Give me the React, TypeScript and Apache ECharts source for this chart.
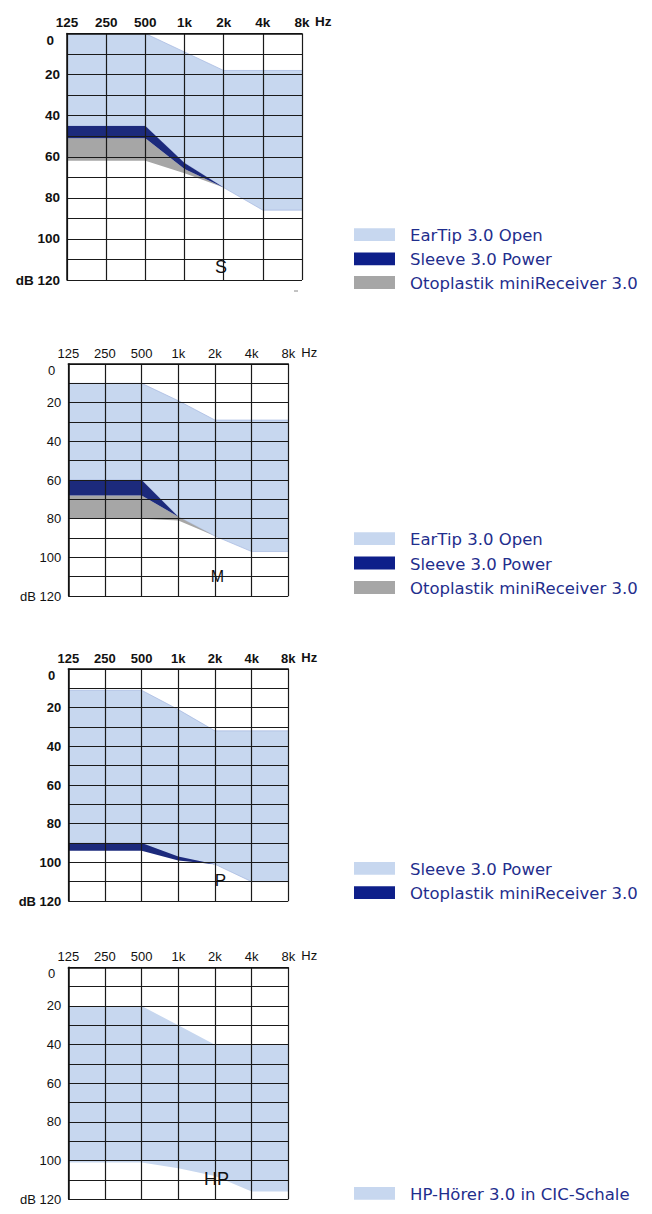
import React, { useEffect, useRef } from 'react';
import * as echarts from 'echarts';

// ---------- data ----------
const freqLabels = ['125', '250', '500', '1k', '2k', '4k', '8k'];
const freqUnit = 'Hz';
const dbUnit = 'dB';
const dbTicks = [0, 20, 40, 60, 80, 100, 120];

const nameEarTip = 'EarTip 3.0 Open';
const nameSleeve = 'Sleeve 3.0 Power';
const nameOto = 'Otoplastik miniReceiver 3.0';
const nameHP = 'HP-Hörer 3.0 in CIC-Schale';

const chartLetters = ['S', 'M', 'P', 'HP'];

// S
const sEarTipTop = [0, 0, 0, 9, 18, 18, 18];
const sEarTipBottom = [45, 45, 45, 63, 75, 86, 86];
const sSleeveTop = [45, 45, 45, 63, 75];
const sSleeveBottom = [51, 51, 51, 66, 75];
const sOtoTop = [51, 51, 51, 66, 75];
const sOtoBottom = [62, 62, 62, 68, 75];

// M
const mEarTipTop = [10, 10, 10, 19, 29, 29, 29];
const mEarTipBottom = [60, 60, 60, 79, 89, 97, 97];
const mSleeveTop = [60, 60, 60, 79];
const mSleeveBottom = [68, 68, 68, 79];
const mOtoTop = [68, 68, 68, 79, 89];
const mOtoBottom = [80, 80, 80, 81, 89];

// P
const pSleeveTop = [11, 11, 11, 21, 32, 32, 32];
const pSleeveBottom = [90, 90, 90, 98, 101, 110, 110];
const pOtoTop = [90, 90, 90, 97, 101];
const pOtoBottom = [94, 94, 94, 99, 101];

// HP
const hpTop = [20, 20, 20, 30, 40, 40, 40];
const hpBottom = [101, 101, 101, 104, 108, 116, 116];

// ---------- styles ----------
const LIGHT = '#c7d7ef';
const NAVY = '#1c2a7c';
const NAVY_SW = '#0e1f8a';
const GRAY = '#a6a6a6';
const EDGE = '#a3b6df';
const TEXT_BLUE = '#1f2e8d';
const AXIS_FONT = '"Liberation Sans", Arial, sans-serif';
const LEG_FONT = '"DejaVu Sans", sans-serif';

const grids = [
  { left: 67, top: 33.5, width: 235, height: 246.5 },
  { left: 68.3, top: 364, width: 220, height: 232 },
  { left: 68.3, top: 669, width: 220, height: 232 },
  { left: 68.3, top: 967.3, width: 220, height: 232 },
];
const labelStyles = [
  { fontSize: 13.5, fontWeight: 'bold' },
  { fontSize: 13, fontWeight: 'normal' },
  { fontSize: 13, fontWeight: 'bold' },
  { fontSize: 13, fontWeight: 'normal' },
];
const letterPos = [
  { x: 221, y: 267, size: 18 },
  { x: 217.5, y: 576, size: 16 },
  { x: 220.5, y: 880, size: 17 },
  { x: 216.5, y: 1179, size: 18 },
];
const legends = [
  { names: [nameEarTip, nameSleeve, nameOto], colors: [LIGHT, NAVY_SW, GRAY], ys: [234.7, 258.8, 282.5] },
  { names: [nameEarTip, nameSleeve, nameOto], colors: [LIGHT, NAVY_SW, GRAY], ys: [538.7, 563, 587.5] },
  { names: [nameSleeve, nameOto], colors: [LIGHT, NAVY_SW], ys: [868.3, 892.7] },
  { names: [nameHP], colors: [LIGHT], ys: [1193.3] },
];

function band(gi: number, key: string, name: string, top: number[], bottom: number[], color: string, z: number, edge?: string) {
  const diff = top.map((t, i) => bottom[i] - t);
  const ls = edge ? { width: 0.7, color: edge } : { width: 0, opacity: 0 };
  return [
    {
      type: 'line', name: key + '-base', xAxisIndex: gi, yAxisIndex: gi, stack: key,
      data: top, symbol: 'none', lineStyle: ls, z, silent: true,
    },
    {
      type: 'line', name, xAxisIndex: gi, yAxisIndex: gi, stack: key,
      data: diff, symbol: 'none', lineStyle: ls, areaStyle: { color, opacity: 1 }, z, silent: true,
    },
  ];
}

export default function App() {
  const ref = useRef<HTMLDivElement>(null);
  useEffect(() => {
    document.body.style.margin = '0';
    const chart = echarts.init(ref.current!, null, { renderer: 'svg' });

    const xAxis = grids.map((g, i) => ({
      type: 'category', gridIndex: i, data: freqLabels, boundaryGap: false, position: 'top', z: 10,
      axisLine: { show: true, lineStyle: { color: '#111', width: 1.5 } },
      axisTick: { show: false },
      axisLabel: { interval: 0, margin: 4, color: '#111', fontFamily: AXIS_FONT, ...labelStyles[i] },
      splitLine: { show: true, interval: 0, lineStyle: { color: '#1a1a1a', width: 1.2 } },
    }));
    const yAxis = grids.map((g, i) => ({
      type: 'value', gridIndex: i, inverse: true, min: 0, max: 120, interval: 10, z: 10,
      axisLine: { show: true, lineStyle: { color: '#111', width: 1.5 } },
      axisTick: { show: false },
      axisLabel: {
        margin: 7, color: '#111', fontFamily: AXIS_FONT, ...labelStyles[i],
        formatter: (v: number) => {
          if (!dbTicks.includes(v)) return '';
          if (v === 0) return '{z|0}';
          if (v === dbTicks[dbTicks.length - 1]) return dbUnit + ' ' + v;
          return String(v);
        },
        rich: {
          z: { padding: [13, 6, 0, 0], color: '#111', fontFamily: AXIS_FONT, ...labelStyles[i] },
        },
      },
      splitLine: { show: true, lineStyle: { color: '#1a1a1a', width: 1.2 } },
    }));

    const series: any[] = [
      ...band(0, 's1', nameEarTip, sEarTipTop, sEarTipBottom, LIGHT, 2, EDGE),
      ...band(0, 's2', nameOto, sOtoTop, sOtoBottom, GRAY, 3),
      ...band(0, 's3', nameSleeve, sSleeveTop, sSleeveBottom, NAVY, 4),
      ...band(1, 'm1', nameEarTip, mEarTipTop, mEarTipBottom, LIGHT, 2, EDGE),
      ...band(1, 'm2', nameOto, mOtoTop, mOtoBottom, GRAY, 3),
      ...band(1, 'm3', nameSleeve, mSleeveTop, mSleeveBottom, NAVY, 4),
      ...band(2, 'p1', nameSleeve, pSleeveTop, pSleeveBottom, LIGHT, 2, EDGE),
      ...band(2, 'p2', nameOto, pOtoTop, pOtoBottom, NAVY, 4),
      ...band(3, 'h1', nameHP, hpTop, hpBottom, LIGHT, 2),
    ];

    const graphic: any[] = [];
    grids.forEach((g, i) => {
      graphic.push({
        type: 'text', x: g.left + g.width + 13, y: g.top - 4 - labelStyles[i].fontSize * 0.6, z: 20,
        style: {
          text: freqUnit, fill: '#111', verticalAlign: 'middle',
          font: `${labelStyles[i].fontWeight} ${labelStyles[i].fontSize}px ${AXIS_FONT}`,
        },
      });
      const lp = letterPos[i];
      graphic.push({
        type: 'text', x: lp.x, y: lp.y, z: 20,
        style: { text: chartLetters[i], fill: '#111', font: `${lp.size}px ${AXIS_FONT}`, align: 'center', verticalAlign: 'middle' },
      });
    });
    legends.forEach((lg) => {
      lg.names.forEach((n, j) => {
        const cy = lg.ys[j];
        graphic.push({ type: 'rect', shape: { x: 354, y: cy - 6.4, width: 41, height: 12.8 }, style: { fill: lg.colors[j] }, z: 20 });
        graphic.push({
          type: 'text', x: 410, y: cy + 1, z: 20,
          style: { text: n, fill: TEXT_BLUE, font: `16.5px ${LEG_FONT}`, verticalAlign: 'middle' },
        });
      });
    });
    graphic.push({ type: 'line', shape: { x1: 294, y1: 291, x2: 298, y2: 291 }, style: { stroke: '#888', lineWidth: 1 }, z: 20 });

    chart.setOption({
      animation: false,
      grid: grids.map((g) => ({ ...g, containLabel: false })),
      xAxis, yAxis, series, graphic,
    });
    return () => chart.dispose();
  }, []);
  return <div ref={ref} style={{ width: 652, height: 1214 }} />;
}
